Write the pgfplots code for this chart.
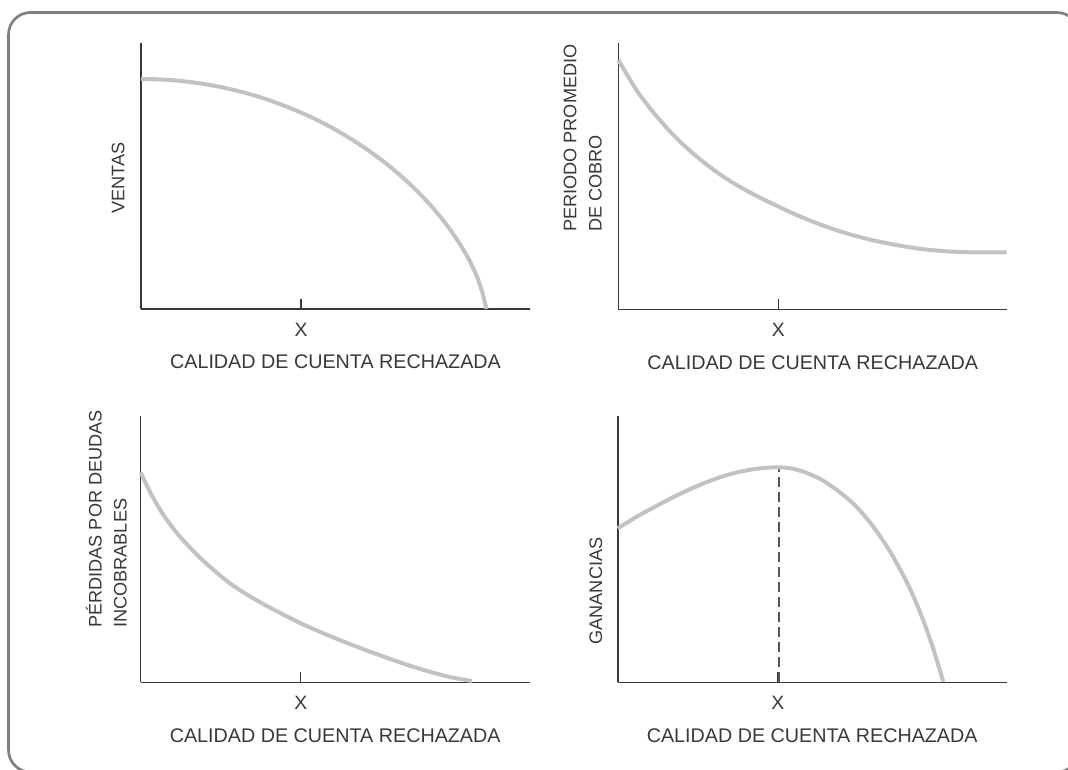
\documentclass[border=0pt]{standalone}
\usepackage{fontspec}
\setmainfont{Liberation Sans}
\usepackage{pgfplots}
\pgfplotsset{compat=1.18}

\definecolor{curvegray}{HTML}{C2C2C2}
\definecolor{axisgray}{HTML}{383838}
\definecolor{framegray}{HTML}{808080}

\pgfplotsset{
  panel/.style={
    scale only axis, width=291.75pt, height=199.5pt,
    xmin=0, xmax=389, ymin=0, ymax=266,
    axis lines=left,
    axis line style={-, draw=axisgray, line width=1.2pt},
    xtick={160}, xticklabels={X},
    ytick=\empty,
    xtick align=inside, major tick length=7.5pt,
    tick style={draw=axisgray, line width=1.1pt},
    xticklabel style={font=\fontsize{14.5}{17}\selectfont, text=axisgray, anchor=center, yshift=-15.75pt},
    xlabel={CALIDAD DE CUENTA RECHAZADA},
    xlabel style={font=\fontsize{14.8}{17}\selectfont, text=axisgray,
      at={(axis description cs:0.5,0)}, anchor=center, yshift=-39.75pt},
    ylabel style={font=\fontsize{13.6}{18.8}\selectfont, text=axisgray, align=left, inner sep=0pt},
    clip=false,
  },
  curve/.style={draw=curvegray, line width=3pt, smooth, tension=0.5, no markers},
}

\begin{document}
\begin{tikzpicture}[x=0.75pt, y=-0.75pt]
\useasboundingbox (0,0) rectangle (1068,769);
\begin{scope}
  \clip (0,0) rectangle (1068,769);
  \draw[framegray, line width=2pt, rounded corners=16.5pt] (8.5,12.5) rectangle (1079,772);
\end{scope}

\coordinate (TL) at (141,309);
\coordinate (TR) at (618.3,309.3);
\coordinate (BL) at (140.7,682.3);
\coordinate (BR) at (617.7,682.3);

% ventas
\begin{axis}[panel, at={(TL)}, anchor=south west,
  ylabel={VENTAS},
  ylabel style={at={(axis description cs:-0.059,0.492)}, anchor=center}]
\addplot[curve] coordinates {(0,230) (20,229.5) (40,228) (60,225.4) (80,221.9) (100,217.2)
  (120,211.5) (140,204.5) (160,196.4) (180,187) (200,176.1) (220,163.6) (240,149.4)
  (250,141.5) (260,133) (270,123.8) (280,114) (290,103.2) (300,91.4) (310,78.2)
  (320,63.2) (328,49.3) (336,32.3) (341,17.5) (345.5,0)};
\end{axis}

% periodo promedio de cobro
\begin{axis}[panel, at={(TR)}, anchor=south west,
  ylabel={PERIODO PROMEDIO\\DE COBRO},
  ylabel style={at={(axis description cs:-0.042,0.29)}, anchor=south west}]
\addplot[curve] coordinates {(0,249.3) (10,232.5) (20,216.5) (35,197) (53.4,176) (70,160)
  (86.7,146) (103,134) (120,123.3) (140,112.5) (160.4,102.6) (180,93.6) (203.4,84.3)
  (228,76) (253.4,69.3) (278,64.3) (303.4,60.3) (328,58) (353.4,57) (388.4,57)};
\end{axis}

% perdidas por deudas incobrables
\begin{axis}[panel, at={(BL)}, anchor=south west,
  ylabel={PÉRDIDAS POR DEUDAS\\INCOBRABLES},
  ylabel style={at={(axis description cs:-0.035,0.204)}, anchor=south west}]
\addplot[curve] coordinates {(0,210) (10,189) (22.6,167.6) (38,147.1) (56,127.8) (72,113.1)
  (89.3,98.9) (106,87.9) (122.6,78.3) (140,69.1) (160.3,58.9) (183,48.9) (206,39.5)
  (231,30) (256,21) (273,15.4) (289.3,10.5) (310,5.1) (331,1.3)};
\end{axis}

% ganancias
\begin{axis}[panel, at={(BR)}, anchor=south west,
  ylabel={GANANCIAS},
  ylabel style={at={(axis description cs:-0.056,0.343)}, anchor=center}]
\addplot[draw=axisgray!85, line width=1.3pt, dash pattern=on 7.5pt off 3.75pt] coordinates {(161,0) (161,215)};
\addplot[curve] coordinates {(0,154) (18.5,165.3) (37.3,175.6) (54,184.3) (70.6,192.3)
  (87,199.3) (104,205.6) (120.5,210.2) (137.3,213.3) (150,214.6) (161,215) (174,213.7)
  (187.3,210) (204,202.5) (220.6,191.2) (237,177.3) (254,157.7) (271,133) (287.3,103.7)
  (297.5,81.8) (307.3,57.3) (316.5,30.6) (325.6,0.6)};
\end{axis}
\end{tikzpicture}
\end{document}
